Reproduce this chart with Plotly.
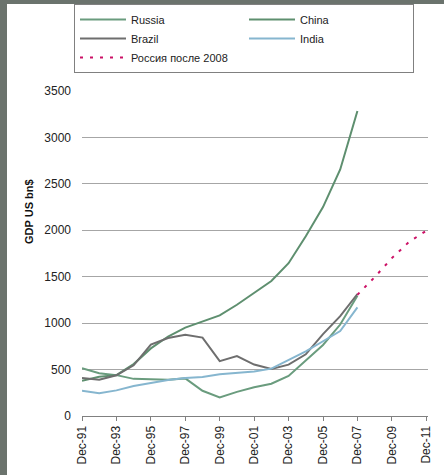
import plotly.graph_objects as go

years = list(range(1991, 2008))
forecast_years = [2007, 2008, 2009, 2010, 2011]
tick_years = list(range(1991, 2012, 2))
tick_labels = ["Dec-91", "Dec-93", "Dec-95", "Dec-97", "Dec-99", "Dec-01",
               "Dec-03", "Dec-05", "Dec-07", "Dec-09", "Dec-11"]

russia = [515, 460, 440, 400, 395, 390, 405, 272, 200, 260, 310, 348, 432, 595, 765, 985, 1295]
china = [380, 423, 440, 559, 728, 856, 952, 1019, 1083, 1198, 1325, 1454, 1645, 1935, 2250, 2655, 3285]
brazil = [410, 390, 438, 546, 769, 840, 875, 844, 590, 645, 554, 506, 553, 664, 882, 1075, 1314]
india = [272, 246, 276, 323, 356, 388, 410, 420, 450, 465, 480, 510, 602, 696, 805, 915, 1170]
russia_after = [1305, 1495, 1700, 1875, 1995]

x_main = [y - 1991 for y in years]
x_fc = [y - 1991 for y in forecast_years]
x_ticks = [y - 1991 for y in tick_years]

# plot-area geometry (pixels)
L, R, T, B = 82, 16, 91, 59
W, H = 444, 475
PW, PH = W - L - R, H - T - B


def px(xp):
    return (xp - L) / PW


def py(yp):
    return (H - B - yp) / PH


fig = go.Figure()
fig.add_trace(go.Scatter(x=x_main, y=russia, name="Russia", mode="lines",
                         line=dict(color="#6a9c7e", width=2)))
fig.add_trace(go.Scatter(x=x_main, y=china, name="China", mode="lines",
                         line=dict(color="#5e8f6f", width=2)))
fig.add_trace(go.Scatter(x=x_main, y=brazil, name="Brazil", mode="lines",
                         line=dict(color="#6e6e6e", width=2)))
fig.add_trace(go.Scatter(x=x_main, y=india, name="India", mode="lines",
                         line=dict(color="#86b6cf", width=2)))
fig.add_trace(go.Scatter(x=x_fc, y=russia_after, name="Россия после 2008", mode="lines",
                         line=dict(color="#cc1166", width=2, dash="3px,7px")))

fig.update_layout(
    width=W, height=H,
    margin=dict(l=L, r=R, t=T, b=B, autoexpand=False),
    paper_bgcolor="white", plot_bgcolor="white",
    font=dict(family="Liberation Sans, Arial, sans-serif", size=12, color="#222"),
    showlegend=True,
    legend=dict(orientation="h", x=px(74), y=py(4),
                xanchor="left", yanchor="top",
                bordercolor="#808080", borderwidth=1, bgcolor="white",
                font=dict(size=11, color="#222"), itemwidth=46,
                entrywidth=108, tracegroupgap=0),
    xaxis=dict(range=[0, 20.1], tickvals=x_ticks, ticktext=tick_labels, tickangle=-90,
               showgrid=False, zeroline=False, showline=True, linecolor="#808080", linewidth=1,
               ticks="outside", ticklen=4, tickcolor="#808080", tickfont=dict(size=12)),
    yaxis=dict(range=[0, 3500], tickvals=[0, 500, 1000, 1500, 2000, 2500, 3000, 3500],
               showgrid=True, gridcolor="#a6a6a6", gridwidth=1, zeroline=False,
               showline=False, ticks="", tickfont=dict(size=12), ticklabelstandoff=10),
    annotations=[dict(text="<b>GDP US bn$</b>", textangle=-90, xref="paper", yref="paper",
                      x=px(29), y=py(212), xanchor="center", yanchor="middle", showarrow=False,
                      font=dict(size=11, color="#111"))],
    shapes=[dict(type="rect", xref="paper", yref="paper", x0=px(0), x1=px(7),
                 y0=py(H), y1=py(0), fillcolor="#6b736d", line=dict(width=0), layer="below"),
            dict(type="rect", xref="paper", yref="paper", x0=px(0), x1=px(W),
                 y0=py(4), y1=py(0), fillcolor="#6b736d", line=dict(width=0), layer="below")],
)

fig.write_html("out.html", config={"displayModeBar": False},
               post_script="document.body.style.margin='0';document.body.style.overflow='hidden';")
